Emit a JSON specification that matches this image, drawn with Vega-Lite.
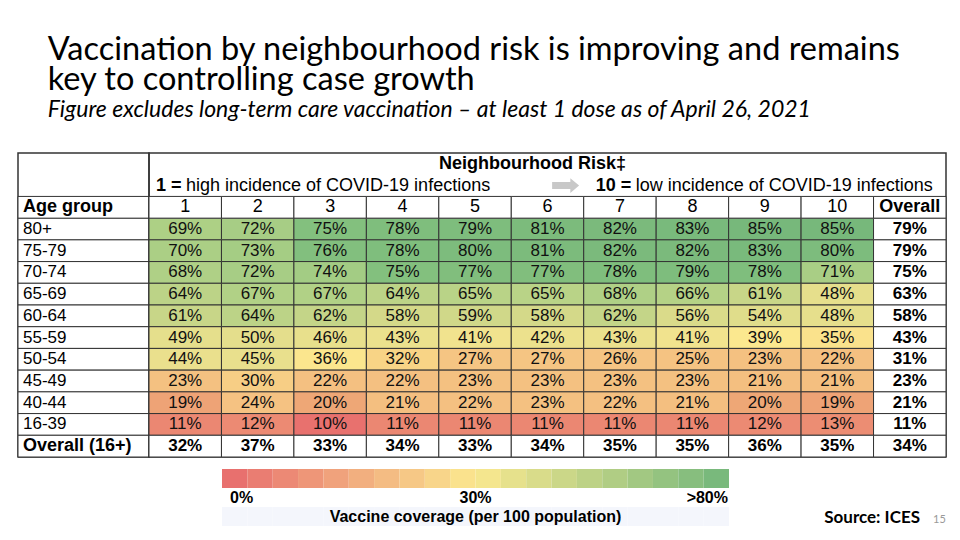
{
  "$schema": "https://vega.github.io/schema/vega-lite/v6.json",
  "background": "white",
  "padding": {"left": 16, "top": 33, "right": 0, "bottom": 0},
  "title": {
    "text": ["Vaccination by neighbourhood risk is improving and remains", "key to controlling case growth"],
    "subtitle": "Figure excludes long-term care vaccination – at least 1 dose as of April 26, 2021",
    "anchor": "start",
    "frame": "bounds",
    "dx": 31,
    "font": "Lato",
    "fontSize": 32.5,
    "fontWeight": "normal",
    "lineHeight": 30,
    "color": "#000000",
    "subtitleFont": "Lato",
    "subtitleFontSize": 23,
    "subtitleFontStyle": "italic",
    "subtitleColor": "#000000",
    "subtitlePadding": 3,
    "offset": 30
  },
  "datasets": {
    "table": [
      {"age": "80+", "1": 0.69, "2": 0.72, "3": 0.75, "4": 0.78, "5": 0.79, "6": 0.81, "7": 0.82, "8": 0.83, "9": 0.85, "10": 0.85, "Overall": 0.79},
      {"age": "75-79", "1": 0.70, "2": 0.73, "3": 0.76, "4": 0.78, "5": 0.80, "6": 0.81, "7": 0.82, "8": 0.82, "9": 0.83, "10": 0.80, "Overall": 0.79},
      {"age": "70-74", "1": 0.68, "2": 0.72, "3": 0.74, "4": 0.75, "5": 0.77, "6": 0.77, "7": 0.78, "8": 0.79, "9": 0.78, "10": 0.71, "Overall": 0.75},
      {"age": "65-69", "1": 0.64, "2": 0.67, "3": 0.67, "4": 0.64, "5": 0.65, "6": 0.65, "7": 0.68, "8": 0.66, "9": 0.61, "10": 0.48, "Overall": 0.63},
      {"age": "60-64", "1": 0.61, "2": 0.64, "3": 0.62, "4": 0.58, "5": 0.59, "6": 0.58, "7": 0.62, "8": 0.56, "9": 0.54, "10": 0.48, "Overall": 0.58},
      {"age": "55-59", "1": 0.49, "2": 0.50, "3": 0.46, "4": 0.43, "5": 0.41, "6": 0.42, "7": 0.43, "8": 0.41, "9": 0.39, "10": 0.35, "Overall": 0.43},
      {"age": "50-54", "1": 0.44, "2": 0.45, "3": 0.36, "4": 0.32, "5": 0.27, "6": 0.27, "7": 0.26, "8": 0.25, "9": 0.23, "10": 0.22, "Overall": 0.31},
      {"age": "45-49", "1": 0.23, "2": 0.30, "3": 0.22, "4": 0.22, "5": 0.23, "6": 0.23, "7": 0.23, "8": 0.23, "9": 0.21, "10": 0.21, "Overall": 0.23},
      {"age": "40-44", "1": 0.19, "2": 0.24, "3": 0.20, "4": 0.21, "5": 0.22, "6": 0.23, "7": 0.22, "8": 0.21, "9": 0.20, "10": 0.19, "Overall": 0.21},
      {"age": "16-39", "1": 0.11, "2": 0.12, "3": 0.10, "4": 0.11, "5": 0.11, "6": 0.11, "7": 0.11, "8": 0.11, "9": 0.12, "10": 0.13, "Overall": 0.11},
      {"age": "Overall (16+)", "1": 0.32, "2": 0.37, "3": 0.33, "4": 0.34, "5": 0.33, "6": 0.34, "7": 0.35, "8": 0.35, "9": 0.36, "10": 0.35, "Overall": 0.34}
    ],
    "legend": [
      {"step": 0, "coverage": 0.0, "label": "0%"},
      {"step": 1, "coverage": 0.032, "label": ""},
      {"step": 2, "coverage": 0.063, "label": ""},
      {"step": 3, "coverage": 0.095, "label": ""},
      {"step": 4, "coverage": 0.126, "label": ""},
      {"step": 5, "coverage": 0.158, "label": ""},
      {"step": 6, "coverage": 0.189, "label": ""},
      {"step": 7, "coverage": 0.221, "label": ""},
      {"step": 8, "coverage": 0.253, "label": ""},
      {"step": 9, "coverage": 0.284, "label": "30%"},
      {"step": 10, "coverage": 0.326, "label": ""},
      {"step": 11, "coverage": 0.379, "label": ""},
      {"step": 12, "coverage": 0.432, "label": ""},
      {"step": 13, "coverage": 0.484, "label": ""},
      {"step": 14, "coverage": 0.537, "label": ""},
      {"step": 15, "coverage": 0.589, "label": ""},
      {"step": 16, "coverage": 0.642, "label": ""},
      {"step": 17, "coverage": 0.695, "label": ""},
      {"step": 18, "coverage": 0.747, "label": ""},
      {"step": 19, "coverage": 0.80, "label": ">80%"}
    ]
  },
  "spacing": 10,
  "resolve": {"scale": {"fill": "independent", "x": "independent", "y": "independent"}},
  "vconcat": [
    {
      "spacing": 0,
      "bounds": "flush",
      "hconcat": [
        {
          "width": 131,
          "height": 304,
          "data": {"name": "table"},
          "layer": [
            {
              "mark": {"type": "rect", "fill": "white", "stroke": "#333333", "strokeWidth": 1},
              "encoding": {
                "x": {"datum": "A", "type": "nominal", "axis": null, "scale": {"paddingInner": 0, "paddingOuter": 0}},
                "y": {"field": "age", "type": "nominal", "axis": null, "sort": null,
                  "scale": {"domain": ["h1", "h2", "Age group", "80+", "75-79", "70-74", "65-69", "60-64", "55-59", "50-54", "45-49", "40-44", "16-39", "Overall (16+)"], "paddingInner": 0, "paddingOuter": 0}}
              }
            },
            {
              "data": {"values": [{}]},
              "mark": {"type": "rect", "fill": "white", "stroke": "#333333", "strokeWidth": 1},
              "encoding": {
                "x": {"datum": "A", "type": "nominal"},
                "y": {"datum": "Age group", "type": "nominal"}
              }
            },
            {
              "transform": [{"filter": "datum.age !== 'Overall (16+)'"}],
              "mark": {"type": "text", "align": "left", "dx": 5, "fontSize": 17, "font": "Liberation Sans", "color": "#000000"},
              "encoding": {
                "x": {"datum": "A", "type": "nominal", "bandPosition": 0},
                "y": {"field": "age", "type": "nominal"},
                "text": {"field": "age"}
              }
            },
            {
              "transform": [{"filter": "datum.age === 'Overall (16+)'"}],
              "mark": {"type": "text", "align": "left", "dx": 5, "fontSize": 18, "fontWeight": "bold", "font": "Liberation Sans", "color": "#000000"},
              "encoding": {
                "x": {"datum": "A", "type": "nominal", "bandPosition": 0},
                "y": {"field": "age", "type": "nominal"},
                "text": {"field": "age"}
              }
            },
            {
              "data": {"values": [{}]},
              "mark": {"type": "text", "align": "left", "dx": 5, "fontSize": 18, "fontWeight": "bold", "font": "Liberation Sans", "color": "#000000", "text": "Age group"},
              "encoding": {
                "x": {"datum": "A", "type": "nominal", "bandPosition": 0},
                "y": {"datum": "Age group", "type": "nominal"}
              }
            }
          ]
        },
        {
          "width": 797,
          "height": 304,
          "data": {"name": "table"},
          "transform": [{"fold": ["1", "2", "3", "4", "5", "6", "7", "8", "9", "10", "Overall"], "as": ["risk", "pct"]}],
          "layer": [
            {
              "mark": {"type": "rect", "stroke": "#333333", "strokeWidth": 1},
              "encoding": {
                "x": {"field": "risk", "type": "nominal", "axis": null, "sort": null,
                  "scale": {"domain": ["1", "2", "3", "4", "5", "6", "7", "8", "9", "10", "Overall"], "paddingInner": 0, "paddingOuter": 0}},
                "y": {"field": "age", "type": "nominal", "axis": null, "sort": null,
                  "scale": {"domain": ["h1", "h2", "Age group", "80+", "75-79", "70-74", "65-69", "60-64", "55-59", "50-54", "45-49", "40-44", "16-39", "Overall (16+)"], "paddingInner": 0, "paddingOuter": 0}},
                "fill": {
                  "condition": {"test": "datum.age === 'Overall (16+)' || datum.risk === 'Overall'", "value": "#ffffff"},
                  "field": "pct", "type": "quantitative", "legend": null,
                  "scale": {
                    "domain": [0.10, 0.11, 0.13, 0.20, 0.21, 0.27, 0.32, 0.36, 0.39, 0.42, 0.48, 0.54, 0.58, 0.62, 0.67, 0.74, 0.75, 0.85],
                    "range": ["#e8716e", "#eb8772", "#ec8d73", "#eea776", "#f4bf80", "#f5c583", "#f8d486", "#fbe68e", "#fbe88f", "#ece18d", "#e6df8c", "#e0dd8b", "#d4d989", "#c4d588", "#b1d186", "#a3cc84", "#83c07e", "#77b87b"],
                    "clamp": true, "interpolate": "rgb"
                  }
                }
              }
            },
            {
              "transform": [{"filter": "datum.age === '80+'"}],
              "mark": {"type": "rect", "fill": "white", "stroke": "#333333", "strokeWidth": 1},
              "encoding": {
                "x": {"field": "risk", "type": "nominal"},
                "y": {"datum": "Age group", "type": "nominal"}
              }
            },
            {
              "transform": [{"filter": "datum.age !== 'Overall (16+)' && datum.risk !== 'Overall'"}],
              "mark": {"type": "text", "fontSize": 17, "font": "Liberation Sans", "color": "#111111"},
              "encoding": {
                "x": {"field": "risk", "type": "nominal"},
                "y": {"field": "age", "type": "nominal"},
                "text": {"field": "pct", "type": "quantitative", "format": ".0%"}
              }
            },
            {
              "transform": [{"filter": "datum.age === 'Overall (16+)' || datum.risk === 'Overall'"}],
              "mark": {"type": "text", "fontSize": 17, "fontWeight": "bold", "font": "Liberation Sans", "color": "#000000"},
              "encoding": {
                "x": {"field": "risk", "type": "nominal"},
                "y": {"field": "age", "type": "nominal"},
                "text": {"field": "pct", "type": "quantitative", "format": ".0%"}
              }
            },
            {
              "transform": [{"filter": "datum.age === '80+' && datum.risk !== 'Overall'"}],
              "mark": {"type": "text", "fontSize": 18, "font": "Liberation Sans", "color": "#000000"},
              "encoding": {
                "x": {"field": "risk", "type": "nominal"},
                "y": {"datum": "Age group", "type": "nominal"},
                "text": {"field": "risk"}
              }
            },
            {
              "transform": [{"filter": "datum.age === '80+' && datum.risk === 'Overall'"}],
              "mark": {"type": "text", "fontSize": 18, "fontWeight": "bold", "font": "Liberation Sans", "color": "#000000"},
              "encoding": {
                "x": {"field": "risk", "type": "nominal"},
                "y": {"datum": "Age group", "type": "nominal"},
                "text": {"field": "risk"}
              }
            },
            {
              "data": {"values": [{}]},
              "mark": {"type": "text", "fontSize": 18, "fontWeight": "bold", "font": "Liberation Sans", "color": "#000000", "text": "Neighbourhood Risk‡", "dx": -15},
              "encoding": {
                "x": {"datum": "6", "type": "nominal"},
                "y": {"datum": "h1", "type": "nominal"}
              }
            },
            {
              "data": {"values": [{}]},
              "mark": {"type": "text", "align": "left", "fontSize": 18, "fontWeight": "bold", "font": "Liberation Sans", "color": "#000000", "text": "1 =", "dx": 7},
              "encoding": {
                "x": {"datum": "1", "type": "nominal", "bandPosition": 0},
                "y": {"datum": "h2", "type": "nominal"}
              }
            },
            {
              "data": {"values": [{}]},
              "mark": {"type": "text", "align": "left", "fontSize": 18, "font": "Liberation Sans", "color": "#000000", "text": "high incidence of COVID-19 infections", "dx": 37},
              "encoding": {
                "x": {"datum": "1", "type": "nominal", "bandPosition": 0},
                "y": {"datum": "h2", "type": "nominal"}
              }
            },
            {
              "data": {"values": [{}]},
              "mark": {"type": "point", "shape": "M-1,-0.26L0.35,-0.26L0.35,-0.55L1,0L0.35,0.55L0.35,0.26L-1,0.26Z", "size": 729, "filled": true, "fill": "#c8c8c8", "strokeWidth": 0, "opacity": 1},
              "encoding": {
                "x": {"datum": "6", "type": "nominal", "bandPosition": 0.75},
                "y": {"datum": "h2", "type": "nominal"}
              }
            },
            {
              "data": {"values": [{}]},
              "mark": {"type": "text", "align": "left", "fontSize": 18, "fontWeight": "bold", "font": "Liberation Sans", "color": "#000000", "text": "10 =", "dx": 12},
              "encoding": {
                "x": {"datum": "7", "type": "nominal", "bandPosition": 0},
                "y": {"datum": "h2", "type": "nominal"}
              }
            },
            {
              "data": {"values": [{}]},
              "mark": {"type": "text", "align": "left", "fontSize": 18, "font": "Liberation Sans", "color": "#000000", "text": "low incidence of COVID-19 infections", "dx": 52},
              "encoding": {
                "x": {"datum": "7", "type": "nominal", "bandPosition": 0},
                "y": {"datum": "h2", "type": "nominal"}
              }
            }
          ]
        }
      ]
    },
    {
      "spacing": 0,
      "bounds": "flush",
      "hconcat": [
        {
          "width": 204,
          "height": 57,
          "view": {"stroke": null},
          "data": {"values": []},
          "mark": {"type": "text"},
          "encoding": {"text": {"value": ""}}
        },
        {
          "width": 507,
          "height": 57,
          "view": {"stroke": null},
          "data": {"name": "legend"},
          "layer": [
            {
              "mark": {"type": "rect"},
              "encoding": {
                "x": {"field": "step", "type": "ordinal", "axis": null, "scale": {"paddingInner": 0, "paddingOuter": 0}},
                "y": {"datum": "bar", "type": "nominal", "axis": null,
                  "scale": {"domain": ["bar", "label", "caption"], "paddingInner": 0, "paddingOuter": 0}},
                "fill": {"field": "coverage", "type": "quantitative", "legend": null,
                  "scale": {"domain": [0, 0.3, 0.8], "range": ["#e8706e", "#fbe88f", "#79b97c"], "interpolate": "rgb"}}
              }
            },
            {
              "mark": {"type": "rect", "fill": "#f4f6fc"},
              "encoding": {
                "x": {"field": "step", "type": "ordinal"},
                "y": {"datum": "caption", "type": "nominal"}
              }
            },
            {
              "transform": [{"filter": "datum.label === '0%'"}],
              "mark": {"type": "text", "align": "left", "dx": 8, "fontSize": 16, "fontWeight": "bold", "font": "Liberation Sans", "color": "#000000"},
              "encoding": {
                "x": {"field": "step", "type": "ordinal", "bandPosition": 0},
                "y": {"datum": "label", "type": "nominal"},
                "text": {"field": "label"}
              }
            },
            {
              "transform": [{"filter": "datum.label === '30%'"}],
              "mark": {"type": "text", "align": "center", "fontSize": 16, "fontWeight": "bold", "font": "Liberation Sans", "color": "#000000"},
              "encoding": {
                "x": {"field": "step", "type": "ordinal", "bandPosition": 1},
                "y": {"datum": "label", "type": "nominal"},
                "text": {"field": "label"}
              }
            },
            {
              "transform": [{"filter": "datum.label === '>80%'"}],
              "mark": {"type": "text", "align": "right", "dx": -1, "fontSize": 16, "fontWeight": "bold", "font": "Liberation Sans", "color": "#000000"},
              "encoding": {
                "x": {"field": "step", "type": "ordinal", "bandPosition": 1},
                "y": {"datum": "label", "type": "nominal"},
                "text": {"field": "label"}
              }
            },
            {
              "data": {"values": [{}]},
              "mark": {"type": "text", "align": "center", "fontSize": 16, "fontWeight": "bold", "font": "Liberation Sans", "color": "#000000", "text": "Vaccine coverage (per 100 population)"},
              "encoding": {
                "x": {"datum": 9, "type": "ordinal", "bandPosition": 1},
                "y": {"datum": "caption", "type": "nominal"}
              }
            },
            {
              "data": {"values": [{}]},
              "mark": {"type": "text", "align": "right", "dx": 191, "dy": 1, "fontSize": 17, "fontWeight": "bold", "font": "Lato", "color": "#000000", "text": "Source: ICES"},
              "encoding": {
                "x": {"datum": 19, "type": "ordinal", "bandPosition": 1},
                "y": {"datum": "caption", "type": "nominal"}
              }
            },
            {
              "data": {"values": [{}]},
              "mark": {"type": "text", "align": "left", "dx": 204, "dy": 3, "fontSize": 11, "font": "Lato", "color": "#999999", "text": "15"},
              "encoding": {
                "x": {"datum": 19, "type": "ordinal", "bandPosition": 1},
                "y": {"datum": "caption", "type": "nominal"}
              }
            }
          ]
        }
      ]
    }
  ],
  "config": {
    "view": {"stroke": "#333333", "strokeWidth": 1.5},
    "text": {"font": "Liberation Sans"}
  }
}
